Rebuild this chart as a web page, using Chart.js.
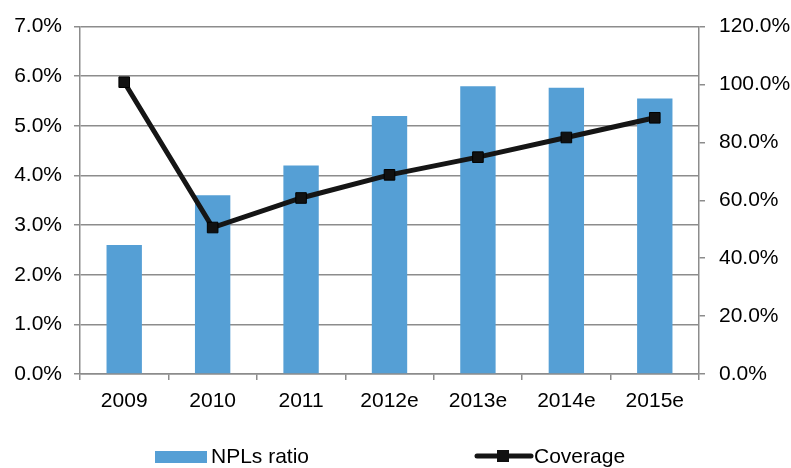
<!DOCTYPE html>
<html>
<head>
<meta charset="utf-8">
<script src="https://cdn.jsdelivr.net/npm/chart.js@4"></script>
<style>
  html, body { margin: 0; padding: 0; background: #fff; }
  #wrap { width: 791px; height: 468px; position: relative; }
</style>
</head>
<body>
<div id="wrap"><canvas id="nplChart" width="791" height="468"></canvas></div>
<script>
// --- DATA ---
const years = ['2009', '2010', '2011', '2012e', '2013e', '2014e', '2015e'];
const nplRatio = [2.6, 3.6, 4.2, 5.2, 5.8, 5.77, 5.55];      // % (left axis)
const coverage = [100.8, 50.6, 60.8, 68.8, 74.9, 81.7, 88.5]; // % (right axis)
const legendLabels = ['NPLs ratio', 'Coverage'];

const BAR_COLOR = '#559fd5';
const LINE_COLOR = '#151515';
const GRID = '#8c8c8c';
const FONT = { family: "'Liberation Sans', Arial, sans-serif", size: 21 };

// legend drawn by hand so the line entry shows line + square marker
const bottomLegend = {
    id: 'bottomLegend',
    afterDraw(chart) {
        const ctx = chart.ctx;
        ctx.save();
        ctx.font = `${FONT.size}px ${FONT.family}`;
        ctx.textBaseline = 'middle';
        const y = 457;

        ctx.fillStyle = BAR_COLOR;
        ctx.fillRect(155, 451, 52, 12);
        ctx.fillStyle = '#000';
        ctx.fillText(legendLabels[0], 211, y);

        ctx.strokeStyle = LINE_COLOR;
        ctx.lineWidth = 5;
        ctx.lineCap = 'round';
        ctx.beginPath();
        ctx.moveTo(477, y - 1);
        ctx.lineTo(531, y - 1);
        ctx.stroke();
        ctx.fillStyle = '#111';
        ctx.fillRect(497, y - 7, 12, 12);
        ctx.fillStyle = '#000';
        ctx.fillText(legendLabels[1], 534, y);
        ctx.restore();
    }
};

document.addEventListener('DOMContentLoaded', () => {
    const ctx = document.getElementById('nplChart').getContext('2d');

    new Chart(ctx, {
        type: 'bar',
        data: {
            labels: years,
            datasets: [
                {
                    type: 'line',
                    label: legendLabels[1],
                    data: coverage,
                    yAxisID: 'yRight',
                    borderColor: LINE_COLOR,
                    borderWidth: 5,
                    pointStyle: 'rect',
                    pointRadius: 7.5,
                    pointBackgroundColor: '#111',
                    pointBorderColor: '#000',
                    pointBorderWidth: 1,
                    tension: 0,
                    order: 0
                },
                {
                    type: 'bar',
                    label: legendLabels[0],
                    data: nplRatio,
                    yAxisID: 'yLeft',
                    backgroundColor: BAR_COLOR,
                    barPercentage: 0.4,
                    categoryPercentage: 1,
                    order: 1
                }
            ]
        },
        options: {
            responsive: false,
            animation: false,
            layout: { padding: { top: 22, bottom: 48, left: 0, right: 0 } },
            plugins: {
                legend: { display: false },
                tooltip: { enabled: false }
            },
            scales: {
                x: {
                    offset: true,
                    grid: { drawOnChartArea: false, offset: true, color: GRID, lineWidth: 1.5, tickLength: 6 },
                    border: { color: GRID, width: 1.5 },
                    ticks: { color: '#000', font: FONT, padding: 9, maxRotation: 0 },
                    afterFit: s => { s.height = 46; }
                },
                yLeft: {
                    position: 'left',
                    min: 0, max: 7,
                    ticks: { stepSize: 1, color: '#000', font: FONT, padding: 12,
                             callback: v => v.toFixed(1) + '%' },
                    grid: { color: GRID, lineWidth: 1.5, tickLength: 6 },
                    border: { color: GRID, width: 1.5 },
                    afterFit: s => { s.width = 80; }
                },
                yRight: {
                    position: 'right',
                    min: 0, max: 120,
                    ticks: { stepSize: 20, color: '#000', font: FONT, padding: 14,
                             callback: v => v.toFixed(1) + '%' },
                    grid: { drawOnChartArea: false, color: GRID, lineWidth: 1.5, tickLength: 6 },
                    border: { color: GRID, width: 1.5 },
                    afterFit: s => { s.width = 92; }
                }
            }
        },
        plugins: [bottomLegend]
    });
});
</script>
</body>
</html>
